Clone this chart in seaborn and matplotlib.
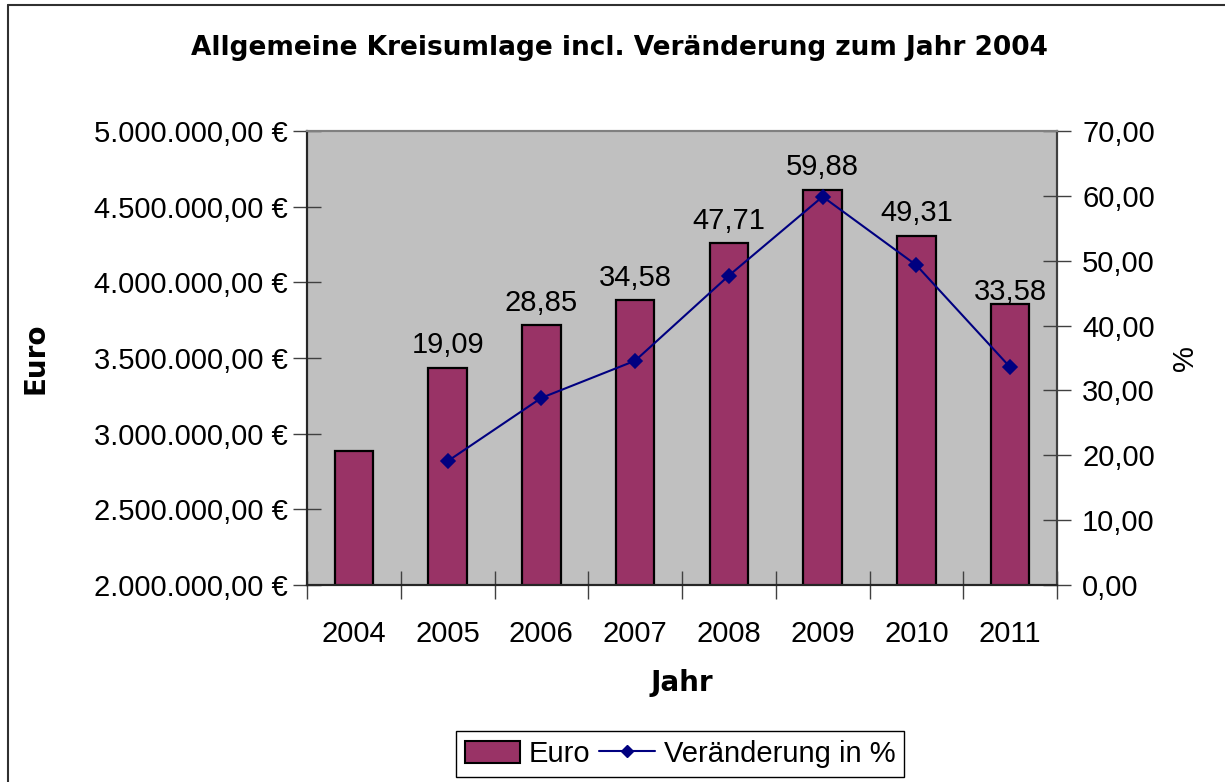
import numpy as np
import matplotlib
matplotlib.use("Agg")
import matplotlib.pyplot as plt
from matplotlib.lines import Line2D
from matplotlib.patches import Patch
from matplotlib.ticker import FuncFormatter, MultipleLocator, FixedLocator
import seaborn as sns

years = ["2004", "2005", "2006", "2007", "2008", "2009", "2010", "2011"]
euro = [2885000, 3436000, 3717000, 3883000, 4261000, 4613000, 4308000, 3854000]
pct = [np.nan, 19.09, 28.85, 34.58, 47.71, 59.88, 49.31, 33.58]
label_years = ["2005", "2006", "2007", "2008", "2009", "2010", "2011"]

title = "Allgemeine Kreisumlage incl. Veränderung zum Jahr 2004"

sns.set_theme(style="white")
plt.rcParams['font.family'] = ['Liberation Sans', 'DejaVu Sans']
plt.rcParams.update({"text.color": "black", "axes.labelcolor": "black",
                     "xtick.color": "black", "ytick.color": "black"})

BAR = "#993366"
LINE = "#000080"
BG = "#C0C0C0"
FS = 21

fig = plt.figure(figsize=(12.25, 7.82), dpi=100)
fig.patch.set_facecolor("white")
ax = fig.add_axes([307/1225, 1-585/782, 750/1225, 454/782])
ax.set_facecolor(BG)

sns.barplot(x=years, y=euro, order=years, color=BAR, saturation=1, width=0.41,
            edgecolor="black", linewidth=1.6, ax=ax, zorder=2)

ax2 = ax.twinx()
sns.pointplot(x=years, y=pct, order=years, ax=ax2, color=LINE, markers="D",
              markersize=7.5, linewidth=1.5, errorbar=None)

ax.set_ylim(2_000_000, 5_000_000)
ax2.set_ylim(0, 70)
ax.set_xlim(-0.5, 7.5)

def euro_fmt(v, _):
    s = f"{v:,.2f}".replace(",", "X").replace(".", ",").replace("X", ".")
    return s + " €"

def pct_fmt(v, _):
    return f"{v:.2f}".replace(".", ",")

ax.yaxis.set_major_locator(MultipleLocator(500_000))
ax.yaxis.set_major_formatter(FuncFormatter(euro_fmt))
ax2.yaxis.set_major_locator(MultipleLocator(10))
ax2.yaxis.set_major_formatter(FuncFormatter(pct_fmt))

ax.xaxis.set_major_locator(FixedLocator(list(range(len(years)))))
ax.set_xticklabels(years)
ax.xaxis.set_minor_locator(FixedLocator([i - 0.5 for i in range(len(years) + 1)]))

ax.tick_params(axis="x", which="major", length=0, labelsize=FS, pad=25, colors="black")
ax.tick_params(axis="x", which="minor", direction="inout", length=20, width=1, color="#404040", bottom=True)
ax.tick_params(axis="y", which="major", direction="inout", length=20, width=1, color="#404040",
               labelsize=FS, pad=4, left=True, labelcolor="black")
ax2.tick_params(axis="y", which="major", direction="inout", length=20, width=1, color="#404040",
                labelsize=FS, pad=8, right=True, labelcolor="black")

for a in (ax, ax2):
    for s in a.spines.values():
        s.set_visible(True)
ax.spines["left"].set_color("black")
ax.spines["bottom"].set_color("black")
ax.spines["top"].set_color("#808080")
ax2.spines["top"].set_color("#808080")
ax2.spines["right"].set_color("#404040")
for a in (ax, ax2):
    for s in a.spines.values():
        s.set_linewidth(1.5)

ax.set_xlabel("Jahr", fontsize=20, fontweight="bold", va="center", family="DejaVu Sans")
ax.xaxis.set_label_coords(0.5, (585-683)/454)
ax.set_ylabel("Euro", fontsize=20, fontweight="bold", va="center", family="DejaVu Sans")
ax.yaxis.set_label_coords((35-307)/750, 0.5)
ax2.set_ylabel("%", fontsize=FS, va="center", rotation=90)
ax2.yaxis.set_label_coords((1185-307)/750, 0.5)

# value labels above the bars
offsets = {"2011": -1}
for i, y in enumerate(years):
    if y in label_years:
        v = pct[i]
        ax2.annotate(pct_fmt(v, None), xy=(i, euro[i]), xycoords=("data", ax.transData),
                     xytext=(0, offsets.get(y, 6)), textcoords="offset points",
                     ha="center", va="bottom", fontsize=FS, zorder=5)

fig.text(619/1225, 1-48/782, title, ha="center", va="center",
         fontsize=19, fontweight="bold", family="DejaVu Sans")

handles = [Patch(facecolor=BAR, edgecolor="black", linewidth=1.5, label="Euro"),
           Line2D([0], [0], color=LINE, marker="D", markersize=6.5, linewidth=1.5,
                  label="Veränderung in %")]
leg = fig.legend(handles=handles, loc="center", bbox_to_anchor=(680/1225, 1-754/782),
                 ncol=2, fontsize=FS, frameon=True, fancybox=False, framealpha=1,
                 edgecolor="black", handlelength=1.9, handleheight=0.8,
                 columnspacing=0.3, handletextpad=0.3, borderpad=0.3)
leg.get_frame().set_linewidth(1.0)

# outer chart border (left and top)
fig.add_artist(Line2D([8/1225, 8/1225], [0, 1-5/782], color="#303030", linewidth=1.5,
                      transform=fig.transFigure))
fig.add_artist(Line2D([8/1225, 1], [1-5/782, 1-5/782], color="#303030", linewidth=1.5,
                      transform=fig.transFigure))

fig.savefig("out.png", dpi=100)
